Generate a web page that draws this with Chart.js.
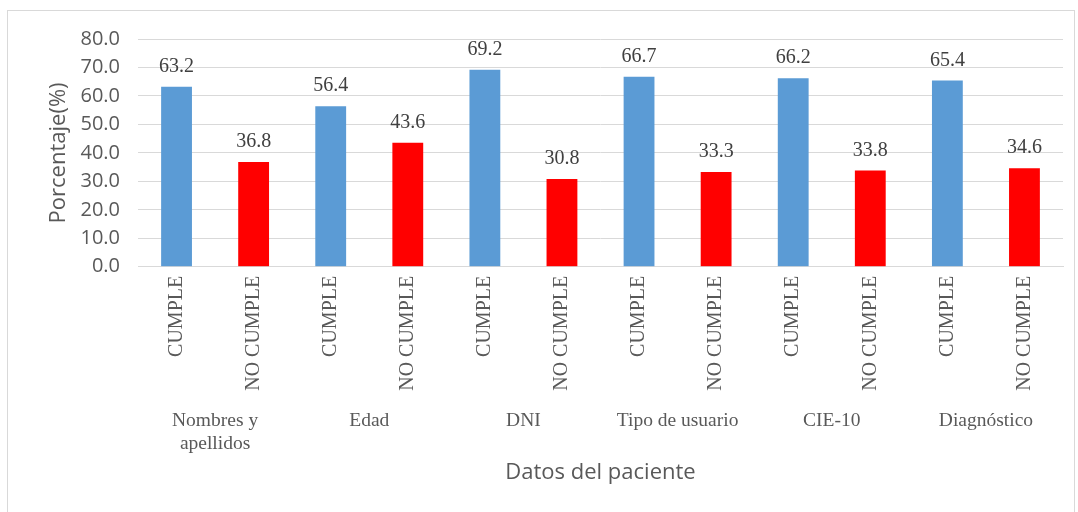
<!DOCTYPE html>
<html>
<head>
<meta charset="utf-8">
<script src="https://cdn.jsdelivr.net/npm/chart.js@4"></script>
<style>
  html, body { margin: 0; padding: 0; background: #fff; }
  #frame {
    position: absolute; left: 7px; top: 10px;
    width: 1068px; height: 510px;
    border: 1px solid #d9d9d9; box-sizing: border-box;
  }
  #chart { position: absolute; left: 0; top: 0; }
</style>
</head>
<body>
<div id="frame"><canvas id="chart" width="1066" height="508"></canvas></div>
<script>
// datos por ítem del paciente
var grupos = [['Nombres y', 'apellidos'], 'Edad', 'DNI', 'Tipo de usuario', 'CIE-10', 'Diagnóstico'];
var estados = ['CUMPLE', 'NO CUMPLE'];
var cumple = [63.2, 56.4, 69.2, 66.7, 66.2, 65.4];
var noCumple = [36.8, 43.6, 30.8, 33.3, 33.8, 34.6];
var yTicks = [0, 10, 20, 30, 40, 50, 60, 70, 80];

var etiquetas = [], valores = [], colores = [];
for (var i = 0; i < grupos.length; i++) {
    etiquetas.push(estados[0], estados[1]);
    valores.push(cumple[i], noCumple[i]);
    colores.push('#5b9bd5', '#ff0000');
}

var serif = "'Liberation Serif', 'Times New Roman', serif";
var sans = "'Open Sans', 'Liberation Sans', sans-serif";

// valores encima de cada barra
var valorBarras = {
    id: 'valorBarras',
    afterDatasetsDraw: function(chart) {
        var ctx = chart.ctx;
        var meta = chart.getDatasetMeta(0);
        ctx.save();
        ctx.font = '20px ' + serif;
        ctx.fillStyle = '#404040';
        ctx.textAlign = 'center';
        ctx.textBaseline = 'alphabetic';
        meta.data.forEach(function(bar, idx) {
            ctx.fillText(valores[idx].toFixed(1), bar.x, bar.y - 15);
        });
        ctx.restore();
    }
};

var ctx = document.getElementById('chart').getContext('2d');
var chart = new Chart(ctx, {
    type: 'bar',
    data: {
        labels: etiquetas,
        datasets: [{
            data: valores,
            backgroundColor: colores,
            categoryPercentage: 1,
            barPercentage: 0.4
        }]
    },
    options: {
        responsive: false,
        animation: false,
        layout: { padding: { top: 0, right: 11, left: 38, bottom: 29 } },
        plugins: { legend: { display: false }, tooltip: { enabled: false } },
        scales: {
            y: {
                min: 0, max: 80,
                afterBuildTicks: function(axis) {
                    axis.ticks = yTicks.map(function(v) { return { value: v }; });
                },
                ticks: {
                    color: '#595959', autoSkip: false,
                    font: { size: 20, family: sans, lineHeight: 1.0 },
                    padding: 18,
                    callback: function(v) { return Number(v).toFixed(1); }
                },
                grid: { color: '#d9d9d9', drawTicks: false },
                border: { display: false },
                title: {
                    display: true, text: 'Porcentaje(%)', color: '#595959',
                    font: { size: 22, family: sans }, padding: 0
                },
                afterFit: function(axis) { axis.width = 92; }
            },
            x: {
                grid: { display: false },
                border: { color: '#d9d9d9' },
                ticks: {
                    color: '#595959', autoSkip: false,
                    minRotation: 90, maxRotation: 90,
                    font: { size: 20, family: serif }, padding: 1
                },
                afterFit: function(axis) { axis.height += 9; }
            },
            x2: {
                type: 'category',
                position: 'bottom',
                weight: 1,
                labels: grupos,
                offset: true,
                grid: { display: false },
                border: { display: false },
                ticks: {
                    color: '#595959', autoSkip: false, maxRotation: 0,
                    font: { size: 19.5, family: serif, lineHeight: 1.2 }, padding: 0
                },
                title: {
                    display: true, text: 'Datos del paciente', color: '#595959',
                    font: { size: 22, family: sans }, padding: { top: 4 }
                }
            }
        }
    },
    plugins: [valorBarras]
});
</script>
</body>
</html>
